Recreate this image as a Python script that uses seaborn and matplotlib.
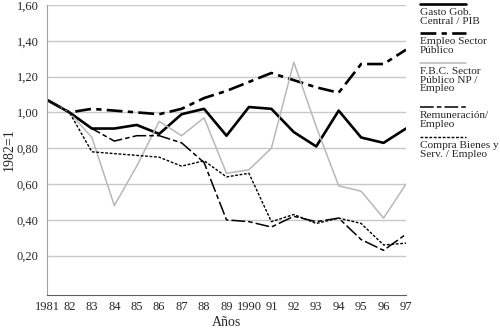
import matplotlib
matplotlib.use("Agg")
import matplotlib.pyplot as plt
import seaborn as sns
import pandas as pd
from matplotlib.lines import Line2D

years = list(range(1981, 1998))
year_labels = ["1981", "82", "83", "84", "85", "86", "87", "88", "89", "1990",
               "91", "92", "93", "94", "95", "96", "97"]

gasto = [1.07, 1.00, 0.91, 0.91, 0.93, 0.88, 0.99, 1.02, 0.87, 1.03, 1.02, 0.89, 0.81, 1.01, 0.86, 0.83, 0.91]
empleo = [1.07, 1.00, 1.02, 1.01, 1.00, 0.99, 1.02, 1.08, 1.12, 1.17, 1.22, 1.18, 1.14, 1.11, 1.27, 1.27, 1.35]
fbc = [1.07, 1.00, 0.86, 0.48, 0.70, 0.95, 0.87, 0.97, 0.66, 0.68, 0.80, 1.28, 0.92, 0.59, 0.56, 0.41, 0.60]
remun = [1.07, 1.00, 0.91, 0.84, 0.87, 0.87, 0.83, 0.72, 0.40, 0.39, 0.36, 0.42, 0.39, 0.41, 0.29, 0.23, 0.32]
compra = [1.07, 1.00, 0.78, 0.77, 0.76, 0.75, 0.70, 0.73, 0.64, 0.66, 0.39, 0.43, 0.38, 0.41, 0.38, 0.26, 0.27]

names = ["Gasto Gob.\nCentral / PIB", "Empleo Sector\nPúblico", "F.B.C. Sector\nPúblico NP /\nEmpleo",
         "Remuneración/\nEmpleo", "Compra Bienes y\nServ. / Empleo"]
series = [gasto, empleo, fbc, remun, compra]
yticks = [0.2, 0.4, 0.6, 0.8, 1.0, 1.2, 1.4, 1.6]
ytick_labels = ["0,20", "0,40", "0,60", "0,80", "1,00", "1,20", "1,40", "1,60"]

styles = [
    dict(color="black", lw=1.9, dashes=()),
    dict(color="black", lw=1.9, dashes=(6, 2, 2, 2)),
    dict(color="#b8b8b8", lw=1.1, dashes=()),
    dict(color="black", lw=1.1, dashes=(9, 2, 3, 2)),
    dict(color="black", lw=1.0, dashes=(2, 1.2)),
]

sns.set_theme(style="white")
plt.rcParams["font.family"] = ["Liberation Serif", "DejaVu Serif"]

fig = plt.figure(figsize=(5.0, 3.29), dpi=100)
ax = fig.add_axes([0.094, 0.103, 0.718, 0.882])

for name, vals, st in zip(names, series, styles):
    df = pd.DataFrame({"year": years, "value": vals})
    sns.lineplot(data=df, x="year", y="value", ax=ax, color=st["color"], lw=st["lw"])
    line = ax.get_lines()[-1]
    if st["dashes"]:
        line.set_dashes(st["dashes"])

ax.set_xlim(1981, 1997)
ax.set_ylim(-0.02, 1.6)
ax.set_yticks(yticks)
ax.set_yticklabels(ytick_labels, fontsize=9)
ax.set_xticks(years)
ax.set_xticklabels(year_labels, fontsize=9)
ax.yaxis.grid(True, color="#c8c8c8", lw=1.0)
ax.set_axisbelow(True)
for s in ["top", "right"]:
    ax.spines[s].set_visible(False)
ax.spines["left"].set_color("#a0a0a0")
ax.spines["left"].set_linewidth(0.8)
ax.spines["bottom"].set_color("#606060")
ax.spines["bottom"].set_linewidth(0.8)
ax.tick_params(axis="x", direction="inout", length=5, width=0.8, color="#404040", pad=2)
ax.tick_params(axis="y", length=0, pad=6)
ax.set_xlabel("Años", fontsize=10, labelpad=2)
ax.set_ylabel("1982=1", fontsize=10, labelpad=1)

# legend on the right
leg_line_y = [4, 33, 63, 107, 137]
for name, st, ly in zip(names, styles, leg_line_y):
    yf = 1 - ly / 329
    ln = Line2D([0.84, 0.932], [yf, yf], transform=fig.transFigure, color=st["color"], lw=st["lw"])
    if st["dashes"]:
        ln.set_dashes(st["dashes"])
    fig.add_artist(ln)
    fig.text(0.84, yf - 0.012, name, ha="left", va="top", fontsize=8.1, linespacing=0.95)

fig.savefig("out.png", dpi=100)
